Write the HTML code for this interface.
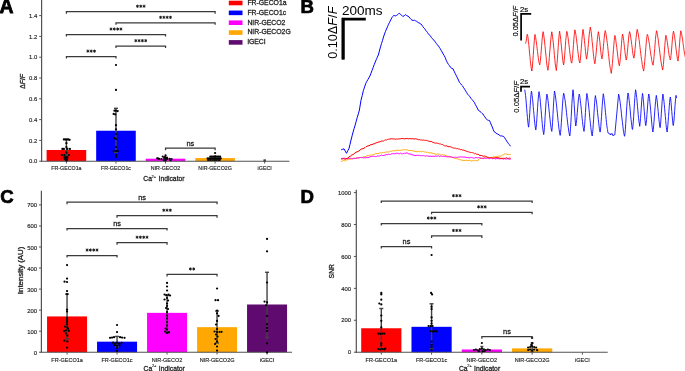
<!DOCTYPE html>
<html><head><meta charset="utf-8"><style>
html,body{margin:0;padding:0;background:#fff;}
svg{display:block;font-family:"Liberation Sans", sans-serif;will-change:transform;opacity:0.999;}
</style></head><body>
<svg width="685" height="371" viewBox="0 0 685 371">
<rect width="685" height="371" fill="#fff"/>
<text x="-0.50" y="13.20" font-size="19.4" text-anchor="start" fill="#000" font-weight="bold" stroke="#000" stroke-width="0.8" >A</text>
<text x="300.50" y="13.20" font-size="18.6" text-anchor="start" fill="#000" font-weight="bold" stroke="#000" stroke-width="0.7" >B</text>
<text x="0.20" y="203.20" font-size="18.6" text-anchor="start" fill="#000" font-weight="bold" stroke="#000" stroke-width="0.7" >C</text>
<text x="300.50" y="203.20" font-size="18.6" text-anchor="start" fill="#000" font-weight="bold" stroke="#000" stroke-width="0.7" >D</text>
<rect x="46.60" y="149.97" width="39.60" height="11.23" fill="#ff0000"/>
<rect x="96.17" y="130.73" width="39.60" height="30.47" fill="#0000ff"/>
<rect x="145.74" y="158.70" width="39.60" height="2.50" fill="#ff00ff"/>
<rect x="195.31" y="158.08" width="39.60" height="3.12" fill="#ffa803"/>
<line x1="41.60" y1="0.00" x2="41.60" y2="161.80" stroke="#525252" stroke-width="1.2" />
<line x1="41.00" y1="161.20" x2="289.40" y2="161.20" stroke="#525252" stroke-width="1.1" />
<line x1="39.20" y1="161.20" x2="41.60" y2="161.20" stroke="#525252" stroke-width="1.0" />
<text x="37.30" y="163.40" font-size="5.9" text-anchor="end" fill="#1e1e1e" font-weight="normal" stroke="#1e1e1e" stroke-width="0.15" >0.0</text>
<line x1="39.20" y1="140.40" x2="41.60" y2="140.40" stroke="#525252" stroke-width="1.0" />
<text x="37.30" y="142.60" font-size="5.9" text-anchor="end" fill="#1e1e1e" font-weight="normal" stroke="#1e1e1e" stroke-width="0.15" >0.2</text>
<line x1="39.20" y1="119.60" x2="41.60" y2="119.60" stroke="#525252" stroke-width="1.0" />
<text x="37.30" y="121.80" font-size="5.9" text-anchor="end" fill="#1e1e1e" font-weight="normal" stroke="#1e1e1e" stroke-width="0.15" >0.4</text>
<line x1="39.20" y1="98.80" x2="41.60" y2="98.80" stroke="#525252" stroke-width="1.0" />
<text x="37.30" y="101.00" font-size="5.9" text-anchor="end" fill="#1e1e1e" font-weight="normal" stroke="#1e1e1e" stroke-width="0.15" >0.6</text>
<line x1="39.20" y1="78.00" x2="41.60" y2="78.00" stroke="#525252" stroke-width="1.0" />
<text x="37.30" y="80.20" font-size="5.9" text-anchor="end" fill="#1e1e1e" font-weight="normal" stroke="#1e1e1e" stroke-width="0.15" >0.8</text>
<line x1="39.20" y1="57.20" x2="41.60" y2="57.20" stroke="#525252" stroke-width="1.0" />
<text x="37.30" y="59.40" font-size="5.9" text-anchor="end" fill="#1e1e1e" font-weight="normal" stroke="#1e1e1e" stroke-width="0.15" >1.0</text>
<line x1="39.20" y1="36.40" x2="41.60" y2="36.40" stroke="#525252" stroke-width="1.0" />
<text x="37.30" y="38.60" font-size="5.9" text-anchor="end" fill="#1e1e1e" font-weight="normal" stroke="#1e1e1e" stroke-width="0.15" >1.2</text>
<line x1="39.20" y1="15.60" x2="41.60" y2="15.60" stroke="#525252" stroke-width="1.0" />
<text x="37.30" y="17.80" font-size="5.9" text-anchor="end" fill="#1e1e1e" font-weight="normal" stroke="#1e1e1e" stroke-width="0.15" >1.4</text>
<line x1="66.40" y1="161.20" x2="66.40" y2="163.50" stroke="#525252" stroke-width="1.0" />
<text x="66.40" y="169.80" font-size="5.3" text-anchor="middle" fill="#1e1e1e" font-weight="normal" stroke="#1e1e1e" stroke-width="0.15" >FR-GECO1a</text>
<line x1="115.97" y1="161.20" x2="115.97" y2="163.50" stroke="#525252" stroke-width="1.0" />
<text x="115.97" y="169.80" font-size="5.3" text-anchor="middle" fill="#1e1e1e" font-weight="normal" stroke="#1e1e1e" stroke-width="0.15" >FR-GECO1c</text>
<line x1="165.54" y1="161.20" x2="165.54" y2="163.50" stroke="#525252" stroke-width="1.0" />
<text x="165.54" y="169.80" font-size="5.3" text-anchor="middle" fill="#1e1e1e" font-weight="normal" stroke="#1e1e1e" stroke-width="0.15" >NIR-GECO2</text>
<line x1="215.11" y1="161.20" x2="215.11" y2="163.50" stroke="#525252" stroke-width="1.0" />
<text x="215.11" y="169.80" font-size="5.3" text-anchor="middle" fill="#1e1e1e" font-weight="normal" stroke="#1e1e1e" stroke-width="0.15" >NIR-GECO2G</text>
<line x1="264.68" y1="161.20" x2="264.68" y2="163.50" stroke="#525252" stroke-width="1.0" />
<text x="264.68" y="169.80" font-size="5.3" text-anchor="middle" fill="#1e1e1e" font-weight="normal" stroke="#1e1e1e" stroke-width="0.15" >iGECI</text>
<text x="25.30" y="81.40" font-size="6.8" text-anchor="middle" fill="#1e1e1e" stroke="#1e1e1e" stroke-width="0.3" transform="rotate(-90 25.30 81.40)">&#916;<tspan font-style="italic">F</tspan>/<tspan font-style="italic">F</tspan></text>
<text x="143.30" y="181.30" font-size="6.8" text-anchor="start" fill="#1e1e1e" font-weight="normal" stroke="#1e1e1e" stroke-width="0.28" >Ca</text>
<text x="151.60" y="177.70" font-size="4.0" text-anchor="start" fill="#1e1e1e" font-weight="normal" stroke="#1e1e1e" stroke-width="0.15" >2+</text>
<text x="158.50" y="181.30" font-size="6.8" text-anchor="start" fill="#1e1e1e" font-weight="normal" stroke="#1e1e1e" stroke-width="0.28" >Indicator</text>
<line x1="66.40" y1="139.60" x2="66.40" y2="160.50" stroke="#424242" stroke-width="1.4" />
<line x1="64.40" y1="139.60" x2="68.40" y2="139.60" stroke="#424242" stroke-width="1.4" />
<line x1="64.40" y1="160.50" x2="68.40" y2="160.50" stroke="#424242" stroke-width="1.4" />
<line x1="115.97" y1="108.30" x2="115.97" y2="152.50" stroke="#424242" stroke-width="1.4" />
<line x1="113.97" y1="108.30" x2="117.97" y2="108.30" stroke="#424242" stroke-width="1.4" />
<line x1="113.97" y1="152.50" x2="117.97" y2="152.50" stroke="#424242" stroke-width="1.4" />
<line x1="165.54" y1="154.80" x2="165.54" y2="161.00" stroke="#424242" stroke-width="1.2" />
<line x1="215.11" y1="155.00" x2="215.11" y2="161.00" stroke="#424242" stroke-width="1.2" />
<line x1="264.68" y1="160.00" x2="264.68" y2="161.00" stroke="#424242" stroke-width="1.4" />
<line x1="263.48" y1="160.00" x2="265.88" y2="160.00" stroke="#424242" stroke-width="1.4" />
<line x1="263.48" y1="161.00" x2="265.88" y2="161.00" stroke="#424242" stroke-width="1.4" />
<circle cx="63.90" cy="139.40" r="1.12" fill="#000"/>
<circle cx="65.40" cy="139.40" r="1.12" fill="#000"/>
<circle cx="66.90" cy="139.40" r="1.12" fill="#000"/>
<circle cx="68.40" cy="139.40" r="1.12" fill="#000"/>
<circle cx="69.60" cy="139.80" r="1.12" fill="#000"/>
<circle cx="66.40" cy="143.20" r="1.12" fill="#000"/>
<circle cx="66.40" cy="147.00" r="1.12" fill="#000"/>
<circle cx="62.40" cy="148.90" r="1.12" fill="#000"/>
<circle cx="63.90" cy="148.90" r="1.12" fill="#000"/>
<circle cx="67.40" cy="148.90" r="1.12" fill="#000"/>
<circle cx="69.90" cy="148.90" r="1.12" fill="#000"/>
<circle cx="66.40" cy="152.60" r="1.12" fill="#000"/>
<circle cx="61.90" cy="155.00" r="1.12" fill="#000"/>
<circle cx="64.40" cy="155.00" r="1.12" fill="#000"/>
<circle cx="68.90" cy="155.00" r="1.12" fill="#000"/>
<circle cx="64.40" cy="157.40" r="1.12" fill="#000"/>
<circle cx="65.40" cy="157.40" r="1.12" fill="#000"/>
<circle cx="66.40" cy="157.40" r="1.12" fill="#000"/>
<circle cx="67.40" cy="157.40" r="1.12" fill="#000"/>
<circle cx="64.90" cy="159.00" r="1.12" fill="#000"/>
<circle cx="66.90" cy="159.50" r="1.12" fill="#000"/>
<circle cx="66.40" cy="160.50" r="1.12" fill="#000"/>
<circle cx="115.97" cy="65.00" r="1.12" fill="#000"/>
<circle cx="115.97" cy="89.90" r="1.12" fill="#000"/>
<circle cx="114.47" cy="110.70" r="1.12" fill="#000"/>
<circle cx="115.97" cy="110.70" r="1.12" fill="#000"/>
<circle cx="117.67" cy="111.10" r="1.12" fill="#000"/>
<circle cx="113.67" cy="113.90" r="1.12" fill="#000"/>
<circle cx="115.27" cy="114.40" r="1.12" fill="#000"/>
<circle cx="115.97" cy="125.20" r="1.12" fill="#000"/>
<circle cx="115.97" cy="129.30" r="1.12" fill="#000"/>
<circle cx="115.97" cy="134.10" r="1.12" fill="#000"/>
<circle cx="114.47" cy="138.20" r="1.12" fill="#000"/>
<circle cx="116.07" cy="139.00" r="1.12" fill="#000"/>
<circle cx="115.97" cy="147.10" r="1.12" fill="#000"/>
<circle cx="113.67" cy="151.10" r="1.12" fill="#000"/>
<circle cx="116.07" cy="151.10" r="1.12" fill="#000"/>
<circle cx="117.77" cy="151.10" r="1.12" fill="#000"/>
<circle cx="115.97" cy="155.20" r="1.12" fill="#000"/>
<circle cx="115.97" cy="156.80" r="1.12" fill="#000"/>
<circle cx="165.54" cy="155.30" r="1.12" fill="#000"/>
<circle cx="162.74" cy="156.50" r="1.12" fill="#000"/>
<circle cx="157.24" cy="158.30" r="1.12" fill="#000"/>
<circle cx="159.14" cy="158.80" r="1.12" fill="#000"/>
<circle cx="161.44" cy="159.00" r="1.12" fill="#000"/>
<circle cx="164.14" cy="157.90" r="1.12" fill="#000"/>
<circle cx="166.94" cy="157.60" r="1.12" fill="#000"/>
<circle cx="165.54" cy="159.20" r="1.12" fill="#000"/>
<circle cx="167.34" cy="158.80" r="1.12" fill="#000"/>
<circle cx="169.64" cy="158.80" r="1.12" fill="#000"/>
<circle cx="171.54" cy="159.00" r="1.12" fill="#000"/>
<circle cx="170.54" cy="160.20" r="1.12" fill="#000"/>
<circle cx="163.74" cy="160.20" r="1.12" fill="#000"/>
<circle cx="165.54" cy="160.40" r="1.12" fill="#000"/>
<circle cx="158.24" cy="158.50" r="1.12" fill="#000"/>
<circle cx="164.94" cy="157.00" r="1.12" fill="#000"/>
<circle cx="166.14" cy="158.30" r="1.12" fill="#000"/>
<circle cx="215.11" cy="153.00" r="1.12" fill="#000"/>
<circle cx="210.31" cy="156.60" r="1.12" fill="#000"/>
<circle cx="211.71" cy="156.60" r="1.12" fill="#000"/>
<circle cx="213.11" cy="156.60" r="1.12" fill="#000"/>
<circle cx="214.51" cy="156.60" r="1.12" fill="#000"/>
<circle cx="215.91" cy="156.60" r="1.12" fill="#000"/>
<circle cx="217.31" cy="156.60" r="1.12" fill="#000"/>
<circle cx="218.71" cy="156.60" r="1.12" fill="#000"/>
<circle cx="220.11" cy="156.60" r="1.12" fill="#000"/>
<circle cx="207.61" cy="158.40" r="1.12" fill="#000"/>
<circle cx="209.11" cy="158.40" r="1.12" fill="#000"/>
<circle cx="210.61" cy="158.40" r="1.12" fill="#000"/>
<circle cx="212.11" cy="158.40" r="1.12" fill="#000"/>
<circle cx="213.61" cy="158.40" r="1.12" fill="#000"/>
<circle cx="215.11" cy="158.40" r="1.12" fill="#000"/>
<circle cx="216.61" cy="158.40" r="1.12" fill="#000"/>
<circle cx="218.11" cy="158.40" r="1.12" fill="#000"/>
<circle cx="219.61" cy="158.40" r="1.12" fill="#000"/>
<circle cx="220.71" cy="158.40" r="1.12" fill="#000"/>
<circle cx="208.11" cy="160.00" r="1.12" fill="#000"/>
<circle cx="210.11" cy="160.00" r="1.12" fill="#000"/>
<circle cx="212.11" cy="160.00" r="1.12" fill="#000"/>
<circle cx="214.11" cy="160.00" r="1.12" fill="#000"/>
<circle cx="216.11" cy="160.00" r="1.12" fill="#000"/>
<circle cx="218.11" cy="160.00" r="1.12" fill="#000"/>
<circle cx="219.71" cy="160.00" r="1.12" fill="#000"/>
<polyline points="66.40,13.70 66.40,11.70 215.11,11.70 215.11,13.70" fill="none" stroke="#3a3a3a" stroke-width="1.25"/>
<path d="M137.45,4.70L137.45,7.80M136.11,5.47L138.80,7.02M138.80,5.47L136.11,7.02" stroke="#1e1e1e" stroke-width="0.95" fill="none"/>
<circle cx="137.45" cy="6.25" r="0.75" fill="#1e1e1e"/>
<path d="M140.75,4.70L140.75,7.80M139.41,5.47L142.10,7.02M142.10,5.47L139.41,7.02" stroke="#1e1e1e" stroke-width="0.95" fill="none"/>
<circle cx="140.75" cy="6.25" r="0.75" fill="#1e1e1e"/>
<path d="M144.06,4.70L144.06,7.80M142.71,5.47L145.40,7.02M145.40,5.47L142.71,7.02" stroke="#1e1e1e" stroke-width="0.95" fill="none"/>
<circle cx="144.06" cy="6.25" r="0.75" fill="#1e1e1e"/>
<polyline points="115.97,24.80 115.97,22.80 215.11,22.80 215.11,24.80" fill="none" stroke="#3a3a3a" stroke-width="1.25"/>
<path d="M160.59,15.80L160.59,18.90M159.25,16.58L161.93,18.12M161.93,16.58L159.25,18.12" stroke="#1e1e1e" stroke-width="0.95" fill="none"/>
<circle cx="160.59" cy="17.35" r="0.75" fill="#1e1e1e"/>
<path d="M163.89,15.80L163.89,18.90M162.55,16.58L165.23,18.12M165.23,16.58L162.55,18.12" stroke="#1e1e1e" stroke-width="0.95" fill="none"/>
<circle cx="163.89" cy="17.35" r="0.75" fill="#1e1e1e"/>
<path d="M167.19,15.80L167.19,18.90M165.85,16.58L168.53,18.12M168.53,16.58L165.85,18.12" stroke="#1e1e1e" stroke-width="0.95" fill="none"/>
<circle cx="167.19" cy="17.35" r="0.75" fill="#1e1e1e"/>
<path d="M170.49,15.80L170.49,18.90M169.15,16.58L171.83,18.12M171.83,16.58L169.15,18.12" stroke="#1e1e1e" stroke-width="0.95" fill="none"/>
<circle cx="170.49" cy="17.35" r="0.75" fill="#1e1e1e"/>
<polyline points="66.40,36.50 66.40,34.50 165.54,34.50 165.54,36.50" fill="none" stroke="#3a3a3a" stroke-width="1.25"/>
<path d="M111.02,27.50L111.02,30.60M109.68,28.28L112.36,29.82M112.36,28.28L109.68,29.82" stroke="#1e1e1e" stroke-width="0.95" fill="none"/>
<circle cx="111.02" cy="29.05" r="0.75" fill="#1e1e1e"/>
<path d="M114.32,27.50L114.32,30.60M112.98,28.28L115.66,29.82M115.66,28.28L112.98,29.82" stroke="#1e1e1e" stroke-width="0.95" fill="none"/>
<circle cx="114.32" cy="29.05" r="0.75" fill="#1e1e1e"/>
<path d="M117.62,27.50L117.62,30.60M116.28,28.28L118.96,29.82M118.96,28.28L116.28,29.82" stroke="#1e1e1e" stroke-width="0.95" fill="none"/>
<circle cx="117.62" cy="29.05" r="0.75" fill="#1e1e1e"/>
<path d="M120.92,27.50L120.92,30.60M119.58,28.28L122.26,29.82M122.26,28.28L119.58,29.82" stroke="#1e1e1e" stroke-width="0.95" fill="none"/>
<circle cx="120.92" cy="29.05" r="0.75" fill="#1e1e1e"/>
<polyline points="115.97,48.10 115.97,46.10 165.54,46.10 165.54,48.10" fill="none" stroke="#3a3a3a" stroke-width="1.25"/>
<path d="M135.81,39.10L135.81,42.20M134.46,39.88L137.15,41.42M137.15,39.88L134.46,41.42" stroke="#1e1e1e" stroke-width="0.95" fill="none"/>
<circle cx="135.81" cy="40.65" r="0.75" fill="#1e1e1e"/>
<path d="M139.10,39.10L139.10,42.20M137.76,39.88L140.45,41.42M140.45,39.88L137.76,41.42" stroke="#1e1e1e" stroke-width="0.95" fill="none"/>
<circle cx="139.10" cy="40.65" r="0.75" fill="#1e1e1e"/>
<path d="M142.41,39.10L142.41,42.20M141.06,39.88L143.75,41.42M143.75,39.88L141.06,41.42" stroke="#1e1e1e" stroke-width="0.95" fill="none"/>
<circle cx="142.41" cy="40.65" r="0.75" fill="#1e1e1e"/>
<path d="M145.70,39.10L145.70,42.20M144.36,39.88L147.05,41.42M147.05,39.88L144.36,41.42" stroke="#1e1e1e" stroke-width="0.95" fill="none"/>
<circle cx="145.70" cy="40.65" r="0.75" fill="#1e1e1e"/>
<polyline points="66.40,58.60 66.40,56.60 115.97,56.60 115.97,58.60" fill="none" stroke="#3a3a3a" stroke-width="1.25"/>
<path d="M87.89,49.60L87.89,52.70M86.54,50.38L89.23,51.92M89.23,50.38L86.54,51.92" stroke="#1e1e1e" stroke-width="0.95" fill="none"/>
<circle cx="87.89" cy="51.15" r="0.75" fill="#1e1e1e"/>
<path d="M91.19,49.60L91.19,52.70M89.84,50.38L92.53,51.92M92.53,50.38L89.84,51.92" stroke="#1e1e1e" stroke-width="0.95" fill="none"/>
<circle cx="91.19" cy="51.15" r="0.75" fill="#1e1e1e"/>
<path d="M94.48,49.60L94.48,52.70M93.14,50.38L95.83,51.92M95.83,50.38L93.14,51.92" stroke="#1e1e1e" stroke-width="0.95" fill="none"/>
<circle cx="94.48" cy="51.15" r="0.75" fill="#1e1e1e"/>
<polyline points="165.54,150.20 165.54,148.20 215.11,148.20 215.11,150.20" fill="none" stroke="#3a3a3a" stroke-width="1.25"/>
<text x="190.33" y="145.80" font-size="7.4" text-anchor="middle" fill="#1e1e1e" font-weight="normal" stroke="#1e1e1e" stroke-width="0.28" >ns</text>
<rect x="228.80" y="0.70" width="13.70" height="4.60" fill="#ff0000"/>
<text x="247.40" y="4.90" font-size="6.85" text-anchor="start" fill="#1e1e1e" font-weight="normal" stroke="#1e1e1e" stroke-width="0.28" >FR-GECO1a</text>
<rect x="228.80" y="10.55" width="13.70" height="4.60" fill="#0000ff"/>
<text x="247.40" y="14.75" font-size="6.85" text-anchor="start" fill="#1e1e1e" font-weight="normal" stroke="#1e1e1e" stroke-width="0.28" >FR-GECO1c</text>
<rect x="228.80" y="20.40" width="13.70" height="4.60" fill="#ff00ff"/>
<text x="247.40" y="24.60" font-size="6.85" text-anchor="start" fill="#1e1e1e" font-weight="normal" stroke="#1e1e1e" stroke-width="0.28" >NIR-GECO2</text>
<rect x="228.80" y="30.25" width="13.70" height="4.60" fill="#ffa803"/>
<text x="247.40" y="34.45" font-size="6.85" text-anchor="start" fill="#1e1e1e" font-weight="normal" stroke="#1e1e1e" stroke-width="0.28" >NIR-GECO2G</text>
<rect x="228.80" y="40.10" width="13.70" height="4.60" fill="#5f0a6e"/>
<text x="247.40" y="44.30" font-size="6.85" text-anchor="start" fill="#1e1e1e" font-weight="normal" stroke="#1e1e1e" stroke-width="0.28" >iGECI</text>
<rect x="47.05" y="316.43" width="40.00" height="35.77" fill="#ff0000"/>
<rect x="97.05" y="341.68" width="40.00" height="10.52" fill="#0000ff"/>
<rect x="147.05" y="312.86" width="40.00" height="39.34" fill="#ff00ff"/>
<rect x="197.05" y="327.16" width="40.00" height="25.04" fill="#ffa803"/>
<rect x="247.05" y="304.50" width="40.00" height="47.70" fill="#5f0a6e"/>
<line x1="41.40" y1="190.70" x2="41.40" y2="352.80" stroke="#525252" stroke-width="1.2" />
<line x1="40.80" y1="352.20" x2="292.00" y2="352.20" stroke="#525252" stroke-width="1.1" />
<line x1="39.00" y1="352.20" x2="41.40" y2="352.20" stroke="#525252" stroke-width="1.0" />
<text x="37.10" y="354.70" font-size="5.9" text-anchor="end" fill="#1e1e1e" font-weight="normal" stroke="#1e1e1e" stroke-width="0.15" >0</text>
<line x1="39.00" y1="331.16" x2="41.40" y2="331.16" stroke="#525252" stroke-width="1.0" />
<text x="37.10" y="333.66" font-size="5.9" text-anchor="end" fill="#1e1e1e" font-weight="normal" stroke="#1e1e1e" stroke-width="0.15" >100</text>
<line x1="39.00" y1="310.12" x2="41.40" y2="310.12" stroke="#525252" stroke-width="1.0" />
<text x="37.10" y="312.62" font-size="5.9" text-anchor="end" fill="#1e1e1e" font-weight="normal" stroke="#1e1e1e" stroke-width="0.15" >200</text>
<line x1="39.00" y1="289.08" x2="41.40" y2="289.08" stroke="#525252" stroke-width="1.0" />
<text x="37.10" y="291.58" font-size="5.9" text-anchor="end" fill="#1e1e1e" font-weight="normal" stroke="#1e1e1e" stroke-width="0.15" >300</text>
<line x1="39.00" y1="268.04" x2="41.40" y2="268.04" stroke="#525252" stroke-width="1.0" />
<text x="37.10" y="270.54" font-size="5.9" text-anchor="end" fill="#1e1e1e" font-weight="normal" stroke="#1e1e1e" stroke-width="0.15" >400</text>
<line x1="39.00" y1="247.00" x2="41.40" y2="247.00" stroke="#525252" stroke-width="1.0" />
<text x="37.10" y="249.50" font-size="5.9" text-anchor="end" fill="#1e1e1e" font-weight="normal" stroke="#1e1e1e" stroke-width="0.15" >500</text>
<line x1="39.00" y1="225.96" x2="41.40" y2="225.96" stroke="#525252" stroke-width="1.0" />
<text x="37.10" y="228.46" font-size="5.9" text-anchor="end" fill="#1e1e1e" font-weight="normal" stroke="#1e1e1e" stroke-width="0.15" >600</text>
<line x1="39.00" y1="204.92" x2="41.40" y2="204.92" stroke="#525252" stroke-width="1.0" />
<text x="37.10" y="207.42" font-size="5.9" text-anchor="end" fill="#1e1e1e" font-weight="normal" stroke="#1e1e1e" stroke-width="0.15" >700</text>
<line x1="67.05" y1="352.20" x2="67.05" y2="354.50" stroke="#525252" stroke-width="1.0" />
<text x="67.05" y="361.80" font-size="5.5" text-anchor="middle" fill="#1e1e1e" font-weight="normal" stroke="#1e1e1e" stroke-width="0.15" >FR-GECO1a</text>
<line x1="117.05" y1="352.20" x2="117.05" y2="354.50" stroke="#525252" stroke-width="1.0" />
<text x="117.05" y="361.80" font-size="5.5" text-anchor="middle" fill="#1e1e1e" font-weight="normal" stroke="#1e1e1e" stroke-width="0.15" >FR-GECO1c</text>
<line x1="167.05" y1="352.20" x2="167.05" y2="354.50" stroke="#525252" stroke-width="1.0" />
<text x="167.05" y="361.80" font-size="5.5" text-anchor="middle" fill="#1e1e1e" font-weight="normal" stroke="#1e1e1e" stroke-width="0.15" >NIR-GECO2</text>
<line x1="217.05" y1="352.20" x2="217.05" y2="354.50" stroke="#525252" stroke-width="1.0" />
<text x="217.05" y="361.80" font-size="5.5" text-anchor="middle" fill="#1e1e1e" font-weight="normal" stroke="#1e1e1e" stroke-width="0.15" >NIR-GECO2G</text>
<line x1="267.05" y1="352.20" x2="267.05" y2="354.50" stroke="#525252" stroke-width="1.0" />
<text x="267.05" y="361.80" font-size="5.5" text-anchor="middle" fill="#1e1e1e" font-weight="normal" stroke="#1e1e1e" stroke-width="0.15" >iGECI</text>
<text x="23.10" y="270.40" font-size="6.8" text-anchor="middle" fill="#1e1e1e" stroke="#1e1e1e" stroke-width="0.3" transform="rotate(-90 23.10 270.40)" textLength="47.5" lengthAdjust="spacingAndGlyphs">Intensity (AU)</text>
<text x="143.60" y="370.60" font-size="6.8" text-anchor="start" fill="#1e1e1e" font-weight="normal" stroke="#1e1e1e" stroke-width="0.28" >Ca</text>
<text x="151.90" y="367.00" font-size="4.0" text-anchor="start" fill="#1e1e1e" font-weight="normal" stroke="#1e1e1e" stroke-width="0.15" >2+</text>
<text x="158.80" y="370.60" font-size="6.8" text-anchor="start" fill="#1e1e1e" font-weight="normal" stroke="#1e1e1e" stroke-width="0.28" >Indicator</text>
<line x1="67.05" y1="294.10" x2="67.05" y2="339.00" stroke="#424242" stroke-width="1.4" />
<line x1="65.05" y1="294.10" x2="69.05" y2="294.10" stroke="#424242" stroke-width="1.4" />
<line x1="65.05" y1="339.00" x2="69.05" y2="339.00" stroke="#424242" stroke-width="1.4" />
<line x1="117.05" y1="336.40" x2="117.05" y2="347.00" stroke="#424242" stroke-width="1.4" />
<line x1="115.05" y1="336.40" x2="119.05" y2="336.40" stroke="#424242" stroke-width="1.4" />
<line x1="115.05" y1="347.00" x2="119.05" y2="347.00" stroke="#424242" stroke-width="1.4" />
<line x1="167.05" y1="295.50" x2="167.05" y2="333.00" stroke="#424242" stroke-width="1.4" />
<line x1="165.05" y1="295.50" x2="169.05" y2="295.50" stroke="#424242" stroke-width="1.4" />
<line x1="165.05" y1="333.00" x2="169.05" y2="333.00" stroke="#424242" stroke-width="1.4" />
<line x1="217.05" y1="311.00" x2="217.05" y2="343.00" stroke="#424242" stroke-width="1.4" />
<line x1="215.05" y1="311.00" x2="219.05" y2="311.00" stroke="#424242" stroke-width="1.4" />
<line x1="215.05" y1="343.00" x2="219.05" y2="343.00" stroke="#424242" stroke-width="1.4" />
<line x1="267.05" y1="272.30" x2="267.05" y2="337.70" stroke="#424242" stroke-width="1.4" />
<line x1="265.05" y1="272.30" x2="269.05" y2="272.30" stroke="#424242" stroke-width="1.4" />
<line x1="265.05" y1="337.70" x2="269.05" y2="337.70" stroke="#424242" stroke-width="1.4" />
<circle cx="67.05" cy="265.10" r="1.12" fill="#000"/>
<circle cx="67.05" cy="278.60" r="1.12" fill="#000"/>
<circle cx="64.55" cy="281.70" r="1.12" fill="#000"/>
<circle cx="67.05" cy="282.00" r="1.12" fill="#000"/>
<circle cx="67.05" cy="291.10" r="1.12" fill="#000"/>
<circle cx="67.05" cy="294.10" r="1.12" fill="#000"/>
<circle cx="67.05" cy="309.60" r="1.12" fill="#000"/>
<circle cx="67.05" cy="311.50" r="1.12" fill="#000"/>
<circle cx="67.05" cy="317.80" r="1.12" fill="#000"/>
<circle cx="67.05" cy="320.00" r="1.12" fill="#000"/>
<circle cx="67.05" cy="322.20" r="1.12" fill="#000"/>
<circle cx="67.05" cy="324.40" r="1.12" fill="#000"/>
<circle cx="65.05" cy="326.60" r="1.12" fill="#000"/>
<circle cx="67.35" cy="327.40" r="1.12" fill="#000"/>
<circle cx="68.05" cy="328.80" r="1.12" fill="#000"/>
<circle cx="64.05" cy="331.10" r="1.12" fill="#000"/>
<circle cx="65.85" cy="330.30" r="1.12" fill="#000"/>
<circle cx="68.85" cy="330.80" r="1.12" fill="#000"/>
<circle cx="65.85" cy="333.30" r="1.12" fill="#000"/>
<circle cx="67.35" cy="335.50" r="1.12" fill="#000"/>
<circle cx="64.35" cy="340.70" r="1.12" fill="#000"/>
<circle cx="67.35" cy="341.40" r="1.12" fill="#000"/>
<circle cx="67.05" cy="347.60" r="1.12" fill="#000"/>
<circle cx="117.05" cy="325.00" r="1.12" fill="#000"/>
<circle cx="117.05" cy="332.10" r="1.12" fill="#000"/>
<circle cx="110.05" cy="337.80" r="1.12" fill="#000"/>
<circle cx="112.05" cy="337.60" r="1.12" fill="#000"/>
<circle cx="114.05" cy="337.20" r="1.12" fill="#000"/>
<circle cx="120.05" cy="337.20" r="1.12" fill="#000"/>
<circle cx="122.05" cy="337.60" r="1.12" fill="#000"/>
<circle cx="124.55" cy="337.80" r="1.12" fill="#000"/>
<circle cx="113.05" cy="342.70" r="1.12" fill="#000"/>
<circle cx="115.05" cy="343.50" r="1.12" fill="#000"/>
<circle cx="117.05" cy="342.70" r="1.12" fill="#000"/>
<circle cx="119.05" cy="343.50" r="1.12" fill="#000"/>
<circle cx="121.55" cy="342.90" r="1.12" fill="#000"/>
<circle cx="114.55" cy="345.20" r="1.12" fill="#000"/>
<circle cx="117.05" cy="345.70" r="1.12" fill="#000"/>
<circle cx="119.55" cy="345.20" r="1.12" fill="#000"/>
<circle cx="117.05" cy="348.00" r="1.12" fill="#000"/>
<circle cx="117.05" cy="350.90" r="1.12" fill="#000"/>
<circle cx="167.05" cy="282.90" r="1.12" fill="#000"/>
<circle cx="167.05" cy="286.50" r="1.12" fill="#000"/>
<circle cx="167.05" cy="290.50" r="1.12" fill="#000"/>
<circle cx="164.55" cy="294.50" r="1.12" fill="#000"/>
<circle cx="166.55" cy="295.00" r="1.12" fill="#000"/>
<circle cx="168.55" cy="294.50" r="1.12" fill="#000"/>
<circle cx="170.05" cy="295.50" r="1.12" fill="#000"/>
<circle cx="167.05" cy="298.00" r="1.12" fill="#000"/>
<circle cx="164.55" cy="299.50" r="1.12" fill="#000"/>
<circle cx="168.05" cy="300.50" r="1.12" fill="#000"/>
<circle cx="167.05" cy="303.50" r="1.12" fill="#000"/>
<circle cx="167.05" cy="306.00" r="1.12" fill="#000"/>
<circle cx="166.05" cy="308.00" r="1.12" fill="#000"/>
<circle cx="168.05" cy="309.00" r="1.12" fill="#000"/>
<circle cx="167.05" cy="312.00" r="1.12" fill="#000"/>
<circle cx="167.05" cy="315.50" r="1.12" fill="#000"/>
<circle cx="167.05" cy="318.50" r="1.12" fill="#000"/>
<circle cx="167.05" cy="322.00" r="1.12" fill="#000"/>
<circle cx="167.05" cy="325.50" r="1.12" fill="#000"/>
<circle cx="165.55" cy="328.50" r="1.12" fill="#000"/>
<circle cx="167.05" cy="329.50" r="1.12" fill="#000"/>
<circle cx="165.05" cy="331.50" r="1.12" fill="#000"/>
<circle cx="167.05" cy="332.80" r="1.12" fill="#000"/>
<circle cx="169.05" cy="332.20" r="1.12" fill="#000"/>
<circle cx="217.05" cy="288.50" r="1.12" fill="#000"/>
<circle cx="215.55" cy="300.20" r="1.12" fill="#000"/>
<circle cx="218.05" cy="300.20" r="1.12" fill="#000"/>
<circle cx="217.05" cy="310.60" r="1.12" fill="#000"/>
<circle cx="217.05" cy="313.30" r="1.12" fill="#000"/>
<circle cx="218.55" cy="315.90" r="1.12" fill="#000"/>
<circle cx="217.05" cy="320.90" r="1.12" fill="#000"/>
<circle cx="216.05" cy="324.50" r="1.12" fill="#000"/>
<circle cx="217.05" cy="329.00" r="1.12" fill="#000"/>
<circle cx="214.55" cy="331.50" r="1.12" fill="#000"/>
<circle cx="217.05" cy="332.00" r="1.12" fill="#000"/>
<circle cx="219.55" cy="332.00" r="1.12" fill="#000"/>
<circle cx="221.55" cy="331.80" r="1.12" fill="#000"/>
<circle cx="216.05" cy="334.50" r="1.12" fill="#000"/>
<circle cx="217.55" cy="336.50" r="1.12" fill="#000"/>
<circle cx="215.55" cy="339.00" r="1.12" fill="#000"/>
<circle cx="217.05" cy="341.50" r="1.12" fill="#000"/>
<circle cx="215.05" cy="344.00" r="1.12" fill="#000"/>
<circle cx="217.05" cy="346.50" r="1.12" fill="#000"/>
<circle cx="217.05" cy="350.60" r="1.12" fill="#000"/>
<circle cx="267.05" cy="238.90" r="1.12" fill="#000"/>
<circle cx="267.05" cy="251.30" r="1.12" fill="#000"/>
<circle cx="267.05" cy="282.50" r="1.12" fill="#000"/>
<circle cx="264.55" cy="301.60" r="1.12" fill="#000"/>
<circle cx="267.05" cy="302.40" r="1.12" fill="#000"/>
<circle cx="266.05" cy="305.30" r="1.12" fill="#000"/>
<circle cx="267.05" cy="316.10" r="1.12" fill="#000"/>
<circle cx="267.05" cy="324.20" r="1.12" fill="#000"/>
<circle cx="267.05" cy="327.90" r="1.12" fill="#000"/>
<circle cx="267.05" cy="331.00" r="1.12" fill="#000"/>
<circle cx="267.05" cy="343.30" r="1.12" fill="#000"/>
<circle cx="267.05" cy="352.40" r="1.12" fill="#000"/>
<polyline points="67.05,204.20 67.05,202.20 217.05,202.20 217.05,204.20" fill="none" stroke="#3a3a3a" stroke-width="1.25"/>
<text x="142.05" y="199.80" font-size="7.4" text-anchor="middle" fill="#1e1e1e" font-weight="normal" stroke="#1e1e1e" stroke-width="0.28" >ns</text>
<polyline points="117.05,217.70 117.05,215.70 217.05,215.70 217.05,217.70" fill="none" stroke="#3a3a3a" stroke-width="1.25"/>
<path d="M163.75,208.70L163.75,211.80M162.41,209.47L165.09,211.03M165.09,209.47L162.41,211.03" stroke="#1e1e1e" stroke-width="0.95" fill="none"/>
<circle cx="163.75" cy="210.25" r="0.75" fill="#1e1e1e"/>
<path d="M167.05,208.70L167.05,211.80M165.71,209.47L168.39,211.03M168.39,209.47L165.71,211.03" stroke="#1e1e1e" stroke-width="0.95" fill="none"/>
<circle cx="167.05" cy="210.25" r="0.75" fill="#1e1e1e"/>
<path d="M170.35,208.70L170.35,211.80M169.01,209.47L171.69,211.03M171.69,209.47L169.01,211.03" stroke="#1e1e1e" stroke-width="0.95" fill="none"/>
<circle cx="170.35" cy="210.25" r="0.75" fill="#1e1e1e"/>
<polyline points="67.05,230.60 67.05,228.60 167.05,228.60 167.05,230.60" fill="none" stroke="#3a3a3a" stroke-width="1.25"/>
<text x="117.05" y="226.20" font-size="7.4" text-anchor="middle" fill="#1e1e1e" font-weight="normal" stroke="#1e1e1e" stroke-width="0.28" >ns</text>
<polyline points="117.05,244.70 117.05,242.70 167.05,242.70 167.05,244.70" fill="none" stroke="#3a3a3a" stroke-width="1.25"/>
<path d="M137.10,235.70L137.10,238.80M135.76,236.47L138.44,238.03M138.44,236.47L135.76,238.03" stroke="#1e1e1e" stroke-width="0.95" fill="none"/>
<circle cx="137.10" cy="237.25" r="0.75" fill="#1e1e1e"/>
<path d="M140.40,235.70L140.40,238.80M139.06,236.47L141.74,238.03M141.74,236.47L139.06,238.03" stroke="#1e1e1e" stroke-width="0.95" fill="none"/>
<circle cx="140.40" cy="237.25" r="0.75" fill="#1e1e1e"/>
<path d="M143.70,235.70L143.70,238.80M142.36,236.47L145.04,238.03M145.04,236.47L142.36,238.03" stroke="#1e1e1e" stroke-width="0.95" fill="none"/>
<circle cx="143.70" cy="237.25" r="0.75" fill="#1e1e1e"/>
<path d="M147.00,235.70L147.00,238.80M145.66,236.47L148.34,238.03M148.34,236.47L145.66,238.03" stroke="#1e1e1e" stroke-width="0.95" fill="none"/>
<circle cx="147.00" cy="237.25" r="0.75" fill="#1e1e1e"/>
<polyline points="67.05,257.50 67.05,255.50 117.05,255.50 117.05,257.50" fill="none" stroke="#3a3a3a" stroke-width="1.25"/>
<path d="M87.10,248.50L87.10,251.60M85.76,249.28L88.44,250.83M88.44,249.28L85.76,250.83" stroke="#1e1e1e" stroke-width="0.95" fill="none"/>
<circle cx="87.10" cy="250.05" r="0.75" fill="#1e1e1e"/>
<path d="M90.40,248.50L90.40,251.60M89.06,249.28L91.74,250.83M91.74,249.28L89.06,250.83" stroke="#1e1e1e" stroke-width="0.95" fill="none"/>
<circle cx="90.40" cy="250.05" r="0.75" fill="#1e1e1e"/>
<path d="M93.70,248.50L93.70,251.60M92.36,249.28L95.04,250.83M95.04,249.28L92.36,250.83" stroke="#1e1e1e" stroke-width="0.95" fill="none"/>
<circle cx="93.70" cy="250.05" r="0.75" fill="#1e1e1e"/>
<path d="M97.00,248.50L97.00,251.60M95.66,249.28L98.34,250.83M98.34,249.28L95.66,250.83" stroke="#1e1e1e" stroke-width="0.95" fill="none"/>
<circle cx="97.00" cy="250.05" r="0.75" fill="#1e1e1e"/>
<polyline points="167.05,276.40 167.05,274.40 217.05,274.40 217.05,276.40" fill="none" stroke="#3a3a3a" stroke-width="1.25"/>
<path d="M190.40,267.40L190.40,270.50M189.06,268.18L191.74,269.72M191.74,268.18L189.06,269.72" stroke="#1e1e1e" stroke-width="0.95" fill="none"/>
<circle cx="190.40" cy="268.95" r="0.75" fill="#1e1e1e"/>
<path d="M193.70,267.40L193.70,270.50M192.36,268.18L195.04,269.72M195.04,268.18L192.36,269.72" stroke="#1e1e1e" stroke-width="0.95" fill="none"/>
<circle cx="193.70" cy="268.95" r="0.75" fill="#1e1e1e"/>
<rect x="361.20" y="328.26" width="40.20" height="24.04" fill="#ff0000"/>
<rect x="411.48" y="326.82" width="40.20" height="25.48" fill="#0000ff"/>
<rect x="461.76" y="349.49" width="40.20" height="2.81" fill="#ff00ff"/>
<rect x="512.04" y="348.37" width="40.20" height="3.93" fill="#ffa803"/>
<line x1="356.30" y1="189.80" x2="356.30" y2="352.90" stroke="#525252" stroke-width="1.2" />
<line x1="355.70" y1="352.30" x2="607.70" y2="352.30" stroke="#525252" stroke-width="1.1" />
<line x1="353.90" y1="352.20" x2="356.30" y2="352.20" stroke="#525252" stroke-width="1.0" />
<text x="351.10" y="354.40" font-size="5.9" text-anchor="end" fill="#1e1e1e" font-weight="normal" stroke="#1e1e1e" stroke-width="0.15" >0</text>
<line x1="353.90" y1="320.28" x2="356.30" y2="320.28" stroke="#525252" stroke-width="1.0" />
<text x="351.10" y="322.48" font-size="5.9" text-anchor="end" fill="#1e1e1e" font-weight="normal" stroke="#1e1e1e" stroke-width="0.15" >200</text>
<line x1="353.90" y1="288.36" x2="356.30" y2="288.36" stroke="#525252" stroke-width="1.0" />
<text x="351.10" y="290.56" font-size="5.9" text-anchor="end" fill="#1e1e1e" font-weight="normal" stroke="#1e1e1e" stroke-width="0.15" >400</text>
<line x1="353.90" y1="256.44" x2="356.30" y2="256.44" stroke="#525252" stroke-width="1.0" />
<text x="351.10" y="258.64" font-size="5.9" text-anchor="end" fill="#1e1e1e" font-weight="normal" stroke="#1e1e1e" stroke-width="0.15" >600</text>
<line x1="353.90" y1="224.52" x2="356.30" y2="224.52" stroke="#525252" stroke-width="1.0" />
<text x="351.10" y="226.72" font-size="5.9" text-anchor="end" fill="#1e1e1e" font-weight="normal" stroke="#1e1e1e" stroke-width="0.15" >800</text>
<line x1="353.90" y1="192.60" x2="356.30" y2="192.60" stroke="#525252" stroke-width="1.0" />
<text x="351.10" y="194.80" font-size="5.9" text-anchor="end" fill="#1e1e1e" font-weight="normal" stroke="#1e1e1e" stroke-width="0.15" >1000</text>
<line x1="381.30" y1="352.30" x2="381.30" y2="354.60" stroke="#525252" stroke-width="1.0" />
<text x="381.30" y="361.90" font-size="5.5" text-anchor="middle" fill="#1e1e1e" font-weight="normal" stroke="#1e1e1e" stroke-width="0.15" >FR-GECO1a</text>
<line x1="431.58" y1="352.30" x2="431.58" y2="354.60" stroke="#525252" stroke-width="1.0" />
<text x="431.58" y="361.90" font-size="5.5" text-anchor="middle" fill="#1e1e1e" font-weight="normal" stroke="#1e1e1e" stroke-width="0.15" >FR-GECO1c</text>
<line x1="481.86" y1="352.30" x2="481.86" y2="354.60" stroke="#525252" stroke-width="1.0" />
<text x="481.86" y="361.90" font-size="5.5" text-anchor="middle" fill="#1e1e1e" font-weight="normal" stroke="#1e1e1e" stroke-width="0.15" >NIR-GECO2</text>
<line x1="532.14" y1="352.30" x2="532.14" y2="354.60" stroke="#525252" stroke-width="1.0" />
<text x="532.14" y="361.90" font-size="5.5" text-anchor="middle" fill="#1e1e1e" font-weight="normal" stroke="#1e1e1e" stroke-width="0.15" >NIR-GECO2G</text>
<line x1="582.42" y1="352.30" x2="582.42" y2="354.60" stroke="#525252" stroke-width="1.0" />
<text x="582.42" y="361.90" font-size="5.5" text-anchor="middle" fill="#1e1e1e" font-weight="normal" stroke="#1e1e1e" stroke-width="0.15" >iGECI</text>
<text x="334.00" y="271.20" font-size="6.8" text-anchor="middle" fill="#1e1e1e" stroke="#1e1e1e" stroke-width="0.3" transform="rotate(-90 334.00 271.20)">SNR</text>
<text x="458.90" y="370.60" font-size="6.8" text-anchor="start" fill="#1e1e1e" font-weight="normal" stroke="#1e1e1e" stroke-width="0.28" >Ca</text>
<text x="467.20" y="367.00" font-size="4.0" text-anchor="start" fill="#1e1e1e" font-weight="normal" stroke="#1e1e1e" stroke-width="0.15" >2+</text>
<text x="474.10" y="370.60" font-size="6.8" text-anchor="start" fill="#1e1e1e" font-weight="normal" stroke="#1e1e1e" stroke-width="0.28" >Indicator</text>
<line x1="381.30" y1="308.50" x2="381.30" y2="349.00" stroke="#424242" stroke-width="1.4" />
<line x1="379.30" y1="308.50" x2="383.30" y2="308.50" stroke="#424242" stroke-width="1.4" />
<line x1="379.30" y1="349.00" x2="383.30" y2="349.00" stroke="#424242" stroke-width="1.4" />
<line x1="431.58" y1="303.80" x2="431.58" y2="349.00" stroke="#424242" stroke-width="1.4" />
<line x1="429.58" y1="303.80" x2="433.58" y2="303.80" stroke="#424242" stroke-width="1.4" />
<line x1="429.58" y1="349.00" x2="433.58" y2="349.00" stroke="#424242" stroke-width="1.4" />
<line x1="481.86" y1="346.50" x2="481.86" y2="351.50" stroke="#424242" stroke-width="1.4" />
<line x1="480.36" y1="346.50" x2="483.36" y2="346.50" stroke="#424242" stroke-width="1.4" />
<line x1="480.36" y1="351.50" x2="483.36" y2="351.50" stroke="#424242" stroke-width="1.4" />
<line x1="532.14" y1="343.00" x2="532.14" y2="351.50" stroke="#424242" stroke-width="1.4" />
<line x1="530.64" y1="343.00" x2="533.64" y2="343.00" stroke="#424242" stroke-width="1.4" />
<line x1="530.64" y1="351.50" x2="533.64" y2="351.50" stroke="#424242" stroke-width="1.4" />
<circle cx="381.30" cy="292.90" r="1.12" fill="#000"/>
<circle cx="381.30" cy="294.40" r="1.12" fill="#000"/>
<circle cx="381.30" cy="299.70" r="1.12" fill="#000"/>
<circle cx="379.30" cy="303.50" r="1.12" fill="#000"/>
<circle cx="381.30" cy="304.40" r="1.12" fill="#000"/>
<circle cx="381.30" cy="315.50" r="1.12" fill="#000"/>
<circle cx="381.30" cy="320.80" r="1.12" fill="#000"/>
<circle cx="381.30" cy="327.40" r="1.12" fill="#000"/>
<circle cx="378.30" cy="333.60" r="1.12" fill="#000"/>
<circle cx="380.30" cy="333.80" r="1.12" fill="#000"/>
<circle cx="382.30" cy="333.60" r="1.12" fill="#000"/>
<circle cx="384.30" cy="333.60" r="1.12" fill="#000"/>
<circle cx="381.30" cy="343.40" r="1.12" fill="#000"/>
<circle cx="381.30" cy="345.30" r="1.12" fill="#000"/>
<circle cx="378.30" cy="349.00" r="1.12" fill="#000"/>
<circle cx="380.30" cy="349.50" r="1.12" fill="#000"/>
<circle cx="382.30" cy="349.00" r="1.12" fill="#000"/>
<circle cx="384.30" cy="349.30" r="1.12" fill="#000"/>
<circle cx="385.30" cy="348.50" r="1.12" fill="#000"/>
<circle cx="431.58" cy="255.00" r="1.12" fill="#000"/>
<circle cx="431.08" cy="292.90" r="1.12" fill="#000"/>
<circle cx="432.08" cy="294.40" r="1.12" fill="#000"/>
<circle cx="431.58" cy="306.70" r="1.12" fill="#000"/>
<circle cx="431.58" cy="309.10" r="1.12" fill="#000"/>
<circle cx="431.58" cy="317.40" r="1.12" fill="#000"/>
<circle cx="431.58" cy="320.80" r="1.12" fill="#000"/>
<circle cx="431.58" cy="323.60" r="1.12" fill="#000"/>
<circle cx="428.58" cy="326.00" r="1.12" fill="#000"/>
<circle cx="430.58" cy="326.20" r="1.12" fill="#000"/>
<circle cx="432.58" cy="326.00" r="1.12" fill="#000"/>
<circle cx="430.58" cy="331.10" r="1.12" fill="#000"/>
<circle cx="432.58" cy="331.50" r="1.12" fill="#000"/>
<circle cx="434.58" cy="331.10" r="1.12" fill="#000"/>
<circle cx="436.58" cy="331.30" r="1.12" fill="#000"/>
<circle cx="431.58" cy="341.50" r="1.12" fill="#000"/>
<circle cx="431.58" cy="344.90" r="1.12" fill="#000"/>
<circle cx="431.58" cy="347.10" r="1.12" fill="#000"/>
<circle cx="431.58" cy="350.00" r="1.12" fill="#000"/>
<circle cx="481.86" cy="343.00" r="1.12" fill="#000"/>
<circle cx="473.86" cy="350.00" r="1.12" fill="#000"/>
<circle cx="475.86" cy="349.50" r="1.12" fill="#000"/>
<circle cx="477.86" cy="350.30" r="1.12" fill="#000"/>
<circle cx="479.86" cy="349.20" r="1.12" fill="#000"/>
<circle cx="481.86" cy="348.50" r="1.12" fill="#000"/>
<circle cx="483.86" cy="349.30" r="1.12" fill="#000"/>
<circle cx="485.86" cy="350.00" r="1.12" fill="#000"/>
<circle cx="487.86" cy="349.60" r="1.12" fill="#000"/>
<circle cx="489.86" cy="350.10" r="1.12" fill="#000"/>
<circle cx="478.86" cy="351.20" r="1.12" fill="#000"/>
<circle cx="482.86" cy="351.30" r="1.12" fill="#000"/>
<circle cx="484.86" cy="351.00" r="1.12" fill="#000"/>
<circle cx="532.14" cy="337.90" r="1.12" fill="#000"/>
<circle cx="532.14" cy="343.00" r="1.12" fill="#000"/>
<circle cx="528.14" cy="347.50" r="1.12" fill="#000"/>
<circle cx="530.14" cy="347.00" r="1.12" fill="#000"/>
<circle cx="532.14" cy="346.30" r="1.12" fill="#000"/>
<circle cx="534.14" cy="347.00" r="1.12" fill="#000"/>
<circle cx="536.14" cy="347.50" r="1.12" fill="#000"/>
<circle cx="528.14" cy="350.00" r="1.12" fill="#000"/>
<circle cx="530.14" cy="349.50" r="1.12" fill="#000"/>
<circle cx="532.14" cy="350.50" r="1.12" fill="#000"/>
<circle cx="534.14" cy="349.50" r="1.12" fill="#000"/>
<circle cx="537.14" cy="350.20" r="1.12" fill="#000"/>
<circle cx="531.14" cy="345.00" r="1.12" fill="#000"/>
<polyline points="381.30,203.10 381.30,201.10 532.14,201.10 532.14,203.10" fill="none" stroke="#3a3a3a" stroke-width="1.25"/>
<path d="M453.42,194.10L453.42,197.20M452.08,194.88L454.76,196.43M454.76,194.88L452.08,196.43" stroke="#1e1e1e" stroke-width="0.95" fill="none"/>
<circle cx="453.42" cy="195.65" r="0.75" fill="#1e1e1e"/>
<path d="M456.72,194.10L456.72,197.20M455.38,194.88L458.06,196.43M458.06,194.88L455.38,196.43" stroke="#1e1e1e" stroke-width="0.95" fill="none"/>
<circle cx="456.72" cy="195.65" r="0.75" fill="#1e1e1e"/>
<path d="M460.02,194.10L460.02,197.20M458.68,194.88L461.36,196.43M461.36,194.88L458.68,196.43" stroke="#1e1e1e" stroke-width="0.95" fill="none"/>
<circle cx="460.02" cy="195.65" r="0.75" fill="#1e1e1e"/>
<polyline points="431.58,214.30 431.58,212.30 532.14,212.30 532.14,214.30" fill="none" stroke="#3a3a3a" stroke-width="1.25"/>
<path d="M478.56,205.30L478.56,208.40M477.22,206.08L479.90,207.63M479.90,206.08L477.22,207.63" stroke="#1e1e1e" stroke-width="0.95" fill="none"/>
<circle cx="478.56" cy="206.85" r="0.75" fill="#1e1e1e"/>
<path d="M481.86,205.30L481.86,208.40M480.52,206.08L483.20,207.63M483.20,206.08L480.52,207.63" stroke="#1e1e1e" stroke-width="0.95" fill="none"/>
<circle cx="481.86" cy="206.85" r="0.75" fill="#1e1e1e"/>
<path d="M485.16,205.30L485.16,208.40M483.82,206.08L486.50,207.63M486.50,206.08L483.82,207.63" stroke="#1e1e1e" stroke-width="0.95" fill="none"/>
<circle cx="485.16" cy="206.85" r="0.75" fill="#1e1e1e"/>
<polyline points="381.30,225.50 381.30,223.50 481.86,223.50 481.86,225.50" fill="none" stroke="#3a3a3a" stroke-width="1.25"/>
<path d="M428.28,216.50L428.28,219.60M426.94,217.28L429.62,218.83M429.62,217.28L426.94,218.83" stroke="#1e1e1e" stroke-width="0.95" fill="none"/>
<circle cx="428.28" cy="218.05" r="0.75" fill="#1e1e1e"/>
<path d="M431.58,216.50L431.58,219.60M430.24,217.28L432.92,218.83M432.92,217.28L430.24,218.83" stroke="#1e1e1e" stroke-width="0.95" fill="none"/>
<circle cx="431.58" cy="218.05" r="0.75" fill="#1e1e1e"/>
<path d="M434.88,216.50L434.88,219.60M433.54,217.28L436.22,218.83M436.22,217.28L433.54,218.83" stroke="#1e1e1e" stroke-width="0.95" fill="none"/>
<circle cx="434.88" cy="218.05" r="0.75" fill="#1e1e1e"/>
<polyline points="431.58,237.90 431.58,235.90 481.86,235.90 481.86,237.90" fill="none" stroke="#3a3a3a" stroke-width="1.25"/>
<path d="M453.42,228.90L453.42,232.00M452.08,229.68L454.76,231.23M454.76,229.68L452.08,231.23" stroke="#1e1e1e" stroke-width="0.95" fill="none"/>
<circle cx="453.42" cy="230.45" r="0.75" fill="#1e1e1e"/>
<path d="M456.72,228.90L456.72,232.00M455.38,229.68L458.06,231.23M458.06,229.68L455.38,231.23" stroke="#1e1e1e" stroke-width="0.95" fill="none"/>
<circle cx="456.72" cy="230.45" r="0.75" fill="#1e1e1e"/>
<path d="M460.02,228.90L460.02,232.00M458.68,229.68L461.36,231.23M461.36,229.68L458.68,231.23" stroke="#1e1e1e" stroke-width="0.95" fill="none"/>
<circle cx="460.02" cy="230.45" r="0.75" fill="#1e1e1e"/>
<polyline points="381.30,248.50 381.30,246.50 431.58,246.50 431.58,248.50" fill="none" stroke="#3a3a3a" stroke-width="1.25"/>
<text x="406.44" y="244.10" font-size="7.4" text-anchor="middle" fill="#1e1e1e" font-weight="normal" stroke="#1e1e1e" stroke-width="0.28" >ns</text>
<polyline points="481.86,338.70 481.86,336.70 532.14,336.70 532.14,338.70" fill="none" stroke="#3a3a3a" stroke-width="1.25"/>
<text x="507.00" y="334.30" font-size="7.4" text-anchor="middle" fill="#1e1e1e" font-weight="normal" stroke="#1e1e1e" stroke-width="0.28" >ns</text>
<polyline points="341.60,161.40 342.61,160.98 343.62,160.56 344.64,160.75 345.65,159.97 346.66,160.12 347.68,159.70 348.69,159.16 349.70,159.30 350.61,159.15 351.51,158.57 352.42,158.77 353.32,158.29 354.23,158.15 355.14,158.29 356.04,158.50 356.95,157.71 357.86,157.64 358.76,157.85 359.67,157.98 360.57,157.49 361.48,157.18 362.39,157.54 363.29,156.55 364.20,156.80 365.11,156.90 366.02,156.17 366.94,155.82 367.85,155.58 368.76,155.53 369.68,155.77 370.59,154.98 371.50,155.12 372.41,154.96 373.32,154.50 374.24,154.44 375.15,153.78 376.06,153.56 376.98,153.47 377.89,153.68 378.80,153.30 379.71,153.08 380.61,152.83 381.52,152.93 382.43,152.66 383.33,152.37 384.24,152.66 385.14,152.43 386.05,151.87 386.96,152.02 387.86,151.82 388.77,151.99 389.68,151.71 390.58,151.16 391.49,151.63 392.39,150.71 393.30,150.90 394.23,150.73 395.16,150.93 396.09,150.29 397.02,150.49 397.95,149.99 398.88,150.45 399.82,150.44 400.75,150.17 401.68,150.34 402.61,149.73 403.54,149.98 404.47,149.78 405.40,149.60 406.36,149.83 407.32,149.88 408.28,150.39 409.24,150.64 410.20,150.38 411.16,150.71 412.12,150.32 413.08,151.06 414.04,151.17 415.00,151.20 415.94,151.72 416.88,151.65 417.82,151.25 418.76,151.42 419.70,151.75 420.64,151.25 421.58,151.73 422.52,151.54 423.46,151.58 424.40,152.00 425.35,151.75 426.30,152.54 427.25,152.12 428.20,152.37 429.15,152.65 430.10,153.23 431.05,152.67 432.00,153.15 432.95,153.39 433.90,153.50 434.84,154.00 435.78,154.09 436.72,154.28 437.66,153.90 438.60,154.17 439.54,154.27 440.48,154.90 441.42,155.11 442.36,154.54 443.30,155.00 444.24,154.97 445.18,155.28 446.12,155.54 447.06,156.03 448.00,156.38 448.94,156.35 449.88,156.37 450.82,157.01 451.76,157.22 452.70,157.60 453.65,157.91 454.60,158.51 455.55,158.52 456.50,158.61 457.45,158.96 458.40,159.26 459.35,158.95 460.30,159.96 461.25,160.10 462.20,160.10 463.14,160.53 464.08,160.55 465.02,160.27 465.96,160.37 466.90,160.19 467.84,160.76 468.78,160.34 469.72,160.43 470.66,160.65 471.60,161.00 472.55,160.70 473.50,160.86 474.45,160.60 475.40,160.55 476.35,160.69 477.30,161.00 478.23,159.94 479.15,159.48 480.07,158.47 481.00,158.20 481.95,158.48 482.90,158.18 483.85,157.70 484.80,157.74 485.75,157.76 486.70,157.72 487.65,157.44 488.60,158.03 489.55,158.10 490.50,157.60 491.44,157.44 492.38,157.33 493.32,156.84 494.26,156.72 495.20,156.81 496.14,156.61 497.08,156.99 498.02,156.26 498.96,156.00 499.90,156.30 500.85,156.31 501.80,155.53 502.75,154.78 503.70,154.74 504.65,153.87 505.60,153.90 506.54,154.03 507.48,154.53 508.42,154.53 509.36,154.48 510.30,154.40" fill="none" stroke="#ffa803" stroke-width="1.0" stroke-linejoin="round" stroke-linecap="round" opacity="1.0"/>
<polyline points="341.60,158.50 342.61,158.29 343.62,158.38 344.64,158.20 345.65,158.74 346.66,158.53 347.68,158.75 348.69,158.35 349.70,158.50 350.61,158.20 351.51,158.68 352.42,158.79 353.32,158.62 354.23,158.53 355.14,158.49 356.04,158.37 356.95,157.85 357.86,158.07 358.76,157.87 359.67,157.53 360.57,157.48 361.48,157.65 362.39,157.58 363.29,157.92 364.20,157.70 365.15,157.99 366.11,157.41 367.06,157.72 368.01,157.65 368.96,157.49 369.92,156.84 370.87,156.58 371.82,156.47 372.78,156.32 373.73,156.20 374.68,156.45 375.64,156.58 376.59,156.40 377.54,155.95 378.49,155.98 379.45,155.99 380.40,155.60 381.32,155.08 382.24,155.46 383.16,155.54 384.09,155.28 385.01,155.11 385.93,154.72 386.85,154.31 387.77,154.72 388.69,154.16 389.61,154.44 390.54,154.45 391.46,153.79 392.38,153.65 393.30,153.60 394.21,153.98 395.12,153.76 396.04,153.25 396.95,153.19 397.86,153.19 398.77,153.85 399.69,153.74 400.60,153.13 401.51,153.73 402.43,153.84 403.34,153.54 404.25,153.24 405.16,153.40 406.07,153.01 406.99,152.88 407.90,153.30 408.91,154.02 409.93,154.03 410.94,154.22 411.96,154.89 412.97,154.74 413.99,155.43 415.00,155.40 415.94,155.73 416.88,155.22 417.82,155.30 418.76,155.37 419.70,155.37 420.64,155.72 421.58,155.46 422.52,155.65 423.46,155.43 424.40,155.80 425.35,156.22 426.30,155.77 427.25,155.91 428.20,156.08 429.15,156.41 430.10,156.03 431.05,156.53 432.00,156.20 432.95,156.28 433.90,156.30 434.84,156.32 435.78,155.87 436.72,156.25 437.66,156.01 438.60,155.85 439.54,156.57 440.48,156.01 441.42,156.28 442.36,156.50 443.30,156.30 444.24,156.45 445.18,156.34 446.12,156.62 447.06,156.75 448.00,157.06 448.94,156.55 449.88,157.05 450.82,156.87 451.76,157.00 452.70,157.30 453.65,157.51 454.60,157.23 455.55,157.24 456.50,157.37 457.45,157.47 458.40,157.01 459.35,157.12 460.30,156.98 461.25,156.95 462.20,156.90 463.14,157.14 464.08,157.00 465.02,157.14 465.96,157.16 466.90,157.65 467.84,157.50 468.78,157.73 469.72,157.86 470.66,157.31 471.60,157.60 472.54,157.71 473.48,158.12 474.42,158.09 475.36,157.51 476.30,157.56 477.24,157.91 478.18,157.64 479.12,157.85 480.06,157.76 481.00,158.20 481.95,158.35 482.90,158.46 483.85,158.56 484.80,157.89 485.75,158.39 486.70,158.34 487.65,157.88 488.60,158.54 489.55,158.62 490.50,158.20 491.44,158.01 492.38,158.73 493.32,158.29 494.26,158.43 495.20,158.94 496.14,158.86 497.08,158.32 498.02,158.62 498.96,158.75 499.90,158.80 500.85,158.69 501.79,158.60 502.74,158.75 503.68,159.15 504.63,158.55 505.57,159.07 506.52,159.00 507.46,158.66 508.41,158.98 509.35,159.28 510.30,159.20" fill="none" stroke="#ff00ff" stroke-width="1.0" stroke-linejoin="round" stroke-linecap="round" opacity="1.0"/>
<polyline points="341.60,159.00 342.70,158.96 343.80,158.51 344.90,159.29 346.00,158.80 347.00,158.48 348.00,158.07 349.00,156.72 350.00,156.50 351.00,155.61 352.00,154.74 353.00,154.73 354.00,153.80 355.00,152.96 356.00,152.20 357.00,151.83 358.00,151.64 359.00,150.92 360.00,150.00 361.00,149.28 362.00,148.68 363.00,148.88 364.00,148.06 365.00,147.68 366.00,146.63 367.00,146.50 368.00,145.69 369.00,145.84 370.00,145.18 371.00,144.45 372.00,144.81 373.00,144.00 374.00,143.78 375.00,143.59 376.00,142.60 377.00,142.95 378.00,141.90 379.00,142.27 380.00,141.60 380.92,141.33 381.84,141.00 382.75,140.97 383.67,141.07 384.59,140.25 385.51,139.90 386.43,140.03 387.35,139.55 388.26,139.20 389.18,139.02 390.10,139.10 391.11,138.70 392.12,138.83 393.14,138.93 394.15,138.92 395.16,139.33 396.18,138.91 397.19,139.10 398.20,139.10 399.17,138.76 400.14,138.86 401.11,138.52 402.08,138.68 403.05,138.41 404.02,139.01 404.99,138.80 405.96,138.42 406.93,138.63 407.90,138.60 408.91,139.02 409.93,138.30 410.94,138.97 411.96,138.65 412.97,138.74 413.99,139.07 415.00,138.80 415.94,138.85 416.88,139.11 417.82,139.42 418.76,139.83 419.70,139.41 420.64,140.00 421.58,140.04 422.52,140.12 423.46,140.06 424.40,140.30 425.35,140.38 426.30,140.34 427.25,140.63 428.20,140.79 429.15,141.62 430.10,141.40 431.05,141.54 432.00,141.69 432.95,142.59 433.90,142.50 434.84,143.08 435.78,143.15 436.72,143.05 437.66,143.27 438.60,143.56 439.54,143.96 440.48,143.94 441.42,144.45 442.36,144.54 443.30,145.00 444.24,145.70 445.18,145.99 446.12,145.88 447.06,145.89 448.00,146.82 448.94,146.51 449.88,146.83 450.82,146.79 451.76,147.41 452.70,147.80 453.65,148.01 454.60,148.26 455.55,148.22 456.50,148.72 457.45,148.50 458.40,148.97 459.35,149.04 460.30,149.55 461.25,149.46 462.20,150.10 463.14,149.91 464.08,150.40 465.02,150.58 465.96,151.14 466.90,151.33 467.84,151.77 468.78,151.92 469.72,152.21 470.66,152.60 471.60,152.50 472.54,152.69 473.48,152.92 474.42,153.81 475.36,153.34 476.30,154.15 477.24,154.37 478.18,154.12 479.12,155.12 480.06,155.46 481.00,155.40 481.95,155.73 482.90,156.05 483.85,156.34 484.80,155.96 485.75,156.52 486.70,156.72 487.65,157.24 488.60,157.43 489.55,157.67 490.50,157.60 491.44,157.74 492.38,158.07 493.32,157.94 494.26,158.01 495.20,157.66 496.14,157.54 497.08,157.69 498.02,157.95 498.96,157.78 499.90,158.20 500.85,158.50 501.79,158.25 502.74,158.31 503.68,158.31 504.63,158.36 505.57,158.19 506.52,157.75 507.46,158.47 508.41,158.42 509.35,158.20 510.30,158.20" fill="none" stroke="#ff0000" stroke-width="1.0" stroke-linejoin="round" stroke-linecap="round" opacity="1.0"/>
<polyline points="341.60,149.60 342.80,149.22 344.00,148.80 345.25,151.13 346.50,153.30 347.70,150.83 348.90,148.80 349.97,144.59 351.03,140.01 352.10,135.80 353.12,131.96 354.15,128.43 355.18,125.04 356.20,121.30 357.27,117.39 358.33,113.89 359.40,110.00 361.00,100.20 362.20,95.59 363.40,90.50 364.60,86.90 365.80,83.30 366.82,81.42 367.85,79.64 368.88,77.92 369.90,76.00 370.97,73.31 372.05,70.41 373.12,67.60 374.20,64.70 375.23,62.06 376.25,59.67 377.27,57.30 378.30,55.00 379.40,51.07 380.50,46.90 381.50,43.58 382.50,40.48 383.50,36.98 384.50,34.00 385.50,31.36 386.50,29.03 387.50,26.81 388.50,24.30 389.60,22.23 390.70,20.05 391.80,17.80 392.75,16.50 393.70,15.40 394.75,15.66 395.80,15.90 396.73,15.23 397.65,14.58 398.57,13.76 399.50,13.30 400.60,14.56 401.70,15.28 402.80,16.50 404.15,15.79 405.50,14.60 406.75,15.62 408.00,16.20 409.00,16.96 410.00,18.18 411.00,19.36 412.00,20.20 413.20,20.43 414.40,20.20 415.33,20.72 416.26,21.17 417.19,21.68 418.11,22.59 419.04,22.77 419.97,23.50 420.90,24.00 421.83,25.02 422.76,26.41 423.69,27.83 424.61,28.62 425.54,30.16 426.47,31.20 427.40,32.40 428.43,33.86 429.47,35.04 430.50,36.07 431.53,37.67 432.57,38.73 433.60,40.00 434.55,40.98 435.50,42.19 436.45,43.65 437.40,44.84 438.35,45.98 439.30,47.30 440.26,48.74 441.22,50.46 442.18,52.07 443.14,53.95 444.10,55.40 445.20,57.58 446.30,60.39 447.40,62.70 448.47,64.47 449.53,65.71 450.60,67.50 451.80,68.36 453.00,68.80 454.10,71.17 455.20,73.53 456.30,75.60 457.37,77.76 458.43,80.07 459.50,82.40 460.57,83.58 461.63,85.12 462.70,86.10 463.68,87.76 464.66,89.27 465.64,90.92 466.62,92.47 467.60,94.20 468.70,95.30 469.80,96.65 470.90,98.34 472.00,99.50 473.20,100.89 474.40,102.50 475.35,104.62 476.30,106.17 477.25,108.08 478.20,110.10 479.14,110.87 480.08,111.46 481.02,112.32 481.96,113.37 482.90,113.90 483.85,115.49 484.80,116.86 485.75,118.17 486.70,119.50 487.63,120.04 488.57,120.39 489.50,120.50 490.44,122.78 491.38,125.13 492.32,127.05 493.26,129.66 494.20,131.80 495.15,132.41 496.10,133.19 497.05,133.77 498.00,134.23 498.95,134.74 499.90,135.60 500.85,136.04 501.80,135.86 502.75,136.26 503.70,136.50 504.65,137.85 505.60,139.25 506.55,140.89 507.50,142.20 508.43,143.67 509.37,144.55 510.30,145.90" fill="none" stroke="#0000ff" stroke-width="1.0" stroke-linejoin="round" stroke-linecap="round" opacity="1.0"/>
<line x1="343.10" y1="17.90" x2="343.10" y2="59.40" stroke="#000" stroke-width="2.9" />
<polyline points="343.1,59.4 343.1,19.2 365.8,19.2" fill="none" stroke="#000" stroke-width="2.7"/>
<text x="342.00" y="14.60" font-size="12.6" text-anchor="start" fill="#000" font-weight="normal" textLength="40.6" lengthAdjust="spacingAndGlyphs" >200ms</text>
<text x="337.1" y="58.8" font-size="12.4" fill="#000" transform="rotate(-90 337.1 58.8)" textLength="52.2" lengthAdjust="spacingAndGlyphs">0.10&#916;<tspan font-style="italic">F</tspan>/<tspan font-style="italic">F</tspan></text>
<polyline points="525.70,43.16 526.10,41.66 526.50,38.68 526.90,36.07 527.30,34.31 527.67,35.53 528.05,37.87 528.42,41.59 528.80,44.53 529.17,48.32 529.55,53.00 529.92,56.51 530.30,60.65 530.67,63.79 531.05,66.92 531.42,68.87 531.80,71.02 532.16,68.83 532.51,65.00 532.87,60.77 533.22,55.67 533.58,49.89 533.93,45.48 534.29,40.90 534.64,37.12 535.00,34.48 535.36,36.52 535.72,37.93 536.08,40.34 536.45,43.04 536.81,45.71 537.17,48.90 537.53,51.48 537.89,54.85 538.25,57.36 538.62,60.35 538.98,62.49 539.34,63.55 539.70,64.87 540.08,62.71 540.46,60.10 540.83,55.48 541.21,50.96 541.59,45.78 541.97,41.27 542.34,37.02 542.72,33.70 543.10,31.68 543.47,33.32 543.84,35.84 544.21,38.42 544.58,41.89 544.95,45.42 545.32,49.35 545.68,52.95 546.05,56.30 546.42,60.52 546.79,63.86 547.16,66.59 547.53,68.52 547.90,70.29 548.25,67.86 548.61,65.63 548.96,61.90 549.32,57.58 549.67,52.97 550.03,49.15 550.38,44.87 550.74,40.00 551.09,37.14 551.45,34.00 551.80,31.79 552.17,33.70 552.55,36.59 552.92,39.77 553.30,42.61 553.67,47.07 554.05,50.69 554.42,55.43 554.80,59.02 555.17,63.11 555.55,66.28 555.92,68.32 556.30,70.55 556.67,67.37 557.03,63.39 557.40,59.12 557.77,53.23 558.13,47.78 558.50,42.59 558.87,38.03 559.23,33.85 559.60,31.19 559.96,33.66 560.33,35.61 560.69,39.26 561.05,42.76 561.42,46.16 561.78,50.20 562.15,54.12 562.51,57.78 562.87,60.81 563.24,63.22 563.60,65.01 563.96,63.06 564.31,59.38 564.67,55.18 565.02,50.74 565.38,45.42 565.73,40.78 566.09,37.25 566.44,33.56 566.80,31.34 567.15,32.12 567.50,34.18 567.85,36.42 568.20,38.37 568.55,41.62 568.90,44.55 569.25,47.05 569.60,50.58 569.95,53.35 570.30,56.26 570.65,58.41 571.00,60.83 571.35,62.55 571.70,63.17 572.06,60.97 572.41,58.24 572.77,54.36 573.12,49.02 573.48,44.32 573.83,39.74 574.19,35.36 574.54,32.11 574.90,29.83 575.28,31.30 575.65,33.44 576.03,35.58 576.41,38.46 576.78,41.92 577.16,44.54 577.54,48.39 577.92,51.84 578.29,54.56 578.67,57.29 579.05,60.22 579.42,61.65 579.80,63.02 580.16,61.00 580.51,57.96 580.87,53.28 581.22,48.78 581.58,43.91 581.93,39.66 582.29,35.17 582.64,32.26 583.00,29.40 583.36,31.25 583.72,33.98 584.08,37.27 584.44,40.42 584.80,44.00 585.16,47.69 585.52,51.60 585.88,54.37 586.24,57.37 586.60,59.10 586.97,56.67 587.34,54.11 587.71,51.25 588.08,47.27 588.45,43.33 588.82,38.82 589.19,34.79 589.56,31.60 589.93,29.41 590.30,27.09 590.67,28.85 591.05,31.25 591.42,34.18 591.80,37.57 592.17,41.77 592.55,44.99 592.92,48.77 593.30,53.35 593.67,56.69 594.05,59.71 594.42,61.55 594.80,63.71 595.16,61.86 595.52,58.60 595.88,55.77 596.24,52.06 596.60,47.85 596.96,43.66 597.32,39.66 597.68,36.40 598.04,33.68 598.40,31.71 598.76,33.74 599.12,35.71 599.48,39.01 599.84,41.57 600.20,45.81 600.56,49.09 600.92,52.55 601.28,55.35 601.64,57.60 602.00,58.87 602.36,56.48 602.71,54.37 603.07,50.37 603.42,46.53 603.78,42.74 604.13,38.66 604.49,35.07 604.84,32.78 605.20,30.60 605.56,31.68 605.92,33.32 606.28,35.95 606.64,38.03 606.99,41.02 607.35,43.59 607.71,46.59 608.07,50.14 608.43,53.68 608.79,56.34 609.15,60.03 609.51,63.11 609.86,65.73 610.22,68.17 610.58,69.52 610.94,71.79 611.30,73.33 611.66,70.42 612.02,67.49 612.38,63.55 612.74,59.26 613.10,54.33 613.46,49.54 613.82,45.29 614.18,40.65 614.54,37.57 614.90,35.46 615.27,36.88 615.65,38.79 616.02,42.06 616.40,44.80 616.77,47.25 617.15,50.90 617.52,54.02 617.90,57.15 618.27,60.04 618.65,62.75 619.02,64.66 619.40,65.87 619.76,63.60 620.11,60.62 620.47,56.52 620.82,52.46 621.18,47.98 621.53,43.23 621.89,39.05 622.24,36.03 622.60,34.09 622.97,35.81 623.34,38.15 623.71,40.52 624.08,44.05 624.45,47.26 624.82,50.45 625.19,53.55 625.56,56.41 625.93,58.77 626.30,60.03 626.67,58.36 627.03,55.33 627.40,51.59 627.77,47.83 628.13,43.78 628.50,39.19 628.87,35.97 629.23,33.15 629.60,31.64 629.96,32.94 630.32,34.17 630.67,36.81 631.03,39.24 631.39,41.53 631.75,44.62 632.11,47.21 632.47,50.61 632.83,52.99 633.18,55.36 633.54,57.01 633.90,58.15 634.27,56.33 634.63,53.41 635.00,49.51 635.37,45.99 635.73,41.35 636.10,37.52 636.47,34.60 636.83,31.17 637.20,29.33 637.56,30.54 637.91,32.79 638.27,34.02 638.62,36.04 638.98,39.20 639.33,41.20 639.69,44.67 640.04,47.46 640.40,50.60 640.76,53.70 641.11,56.31 641.47,59.32 641.82,61.29 642.18,64.37 642.53,66.30 642.89,68.35 643.24,69.34 643.60,71.12 643.97,69.15 644.34,65.27 644.71,61.63 645.08,57.38 645.45,52.85 645.82,47.55 646.19,43.03 646.56,39.21 646.93,36.45 647.30,34.43 647.66,35.14 648.01,36.47 648.37,38.16 648.72,40.05 649.08,42.27 649.44,44.32 649.79,47.17 650.15,50.13 650.51,52.16 650.86,54.93 651.22,56.75 651.58,59.39 651.93,61.38 652.29,62.96 652.64,64.18 653.00,65.19 653.35,63.33 653.70,60.68 654.05,56.39 654.40,52.18 654.75,48.32 655.10,44.03 655.45,39.51 655.80,35.82 656.15,33.20 656.50,30.72 656.86,32.01 657.23,33.53 657.59,35.79 657.96,37.78 658.32,40.21 658.69,43.34 659.05,46.46 659.42,48.86 659.78,52.24 660.15,54.97 660.51,58.25 660.88,60.73 661.24,62.94 661.61,65.13 661.97,66.87 662.34,68.86 662.70,69.99 663.06,67.49 663.41,64.26 663.77,59.93 664.12,55.48 664.48,49.85 664.83,45.75 665.19,41.00 665.54,37.71 665.90,35.27 666.27,36.76 666.63,38.36 667.00,40.14 667.37,42.41 667.73,45.20 668.10,48.02 668.47,50.31 668.83,53.18 669.20,55.73 669.57,57.30 669.93,58.69 670.30,59.86 670.66,58.36 671.01,55.48 671.37,52.15 671.72,47.99 672.08,43.20 672.43,39.09 672.79,35.56 673.14,32.66 673.50,31.18 673.88,32.74 674.25,34.74 674.62,36.61 675.00,40.01 675.38,42.65 675.75,46.03 676.12,49.59 676.50,52.14 676.88,55.00 677.25,58.12 677.62,59.60 678.00,61.07 678.40,58.51 678.80,54.35 679.20,48.47 679.60,43.13 680.00,37.95 680.40,33.75 680.80,30.74 681.16,32.19 681.52,34.05 681.88,35.43 682.25,37.78 682.61,39.84 682.97,42.58 683.33,45.57 683.69,47.67 684.05,50.81 684.42,53.04 684.78,54.20 685.14,56.48 685.50,57.20" fill="none" stroke="#ff0000" stroke-width="0.85" stroke-linejoin="round" stroke-linecap="round" opacity="1.0"/>
<polyline points="524.80,89.99 525.18,92.50 525.56,95.59 525.94,99.08 526.32,103.91 526.70,108.69 527.08,113.62 527.46,117.62 527.84,121.97 528.22,125.26 528.60,127.16 529.00,123.75 529.40,118.32 529.80,112.40 530.20,105.57 530.60,99.63 531.00,94.55 531.40,91.16 531.77,92.63 532.13,95.56 532.50,98.69 532.87,101.94 533.23,106.60 533.60,110.59 533.97,114.32 534.33,119.06 534.70,122.01 535.07,125.32 535.43,128.18 535.80,129.89 536.16,127.31 536.51,123.66 536.87,118.78 537.22,113.31 537.58,107.63 537.93,102.19 538.29,98.07 538.64,94.37 539.00,91.64 539.36,93.64 539.72,95.79 540.08,98.81 540.45,102.53 540.81,106.97 541.17,110.47 541.53,115.22 541.89,119.23 542.25,123.71 542.62,126.95 542.98,130.03 543.34,132.59 543.70,134.54 544.06,132.04 544.41,127.70 544.77,123.14 545.12,116.80 545.48,111.04 545.83,105.21 546.19,100.22 546.54,96.85 546.90,94.10 547.28,95.23 547.65,97.43 548.03,100.36 548.41,103.84 548.78,107.44 549.16,111.12 549.54,114.79 549.92,118.13 550.29,121.88 550.67,124.88 551.05,127.92 551.42,130.15 551.80,131.43 552.19,127.76 552.57,122.53 552.96,114.77 553.34,107.88 553.73,100.88 554.11,95.22 554.50,90.99 554.86,92.63 555.21,94.59 555.57,97.01 555.92,100.08 556.28,102.91 556.64,105.92 556.99,109.95 557.35,113.24 557.71,116.96 558.06,120.61 558.42,123.31 558.78,127.09 559.13,129.75 559.49,131.97 559.84,133.94 560.20,135.36 560.58,132.29 560.96,128.44 561.33,122.76 561.71,117.24 562.09,111.19 562.47,105.07 562.84,99.94 563.22,96.14 563.60,93.25 563.96,93.91 564.33,96.23 564.69,98.18 565.06,100.12 565.42,103.14 565.79,106.01 566.15,109.04 566.52,112.73 566.88,116.39 567.25,119.12 567.61,122.78 567.98,125.61 568.34,127.85 568.71,130.95 569.07,132.82 569.44,134.85 569.80,135.99 570.16,132.97 570.51,128.15 570.87,122.94 571.22,116.66 571.58,109.95 571.93,103.18 572.29,97.84 572.64,93.13 573.00,89.75 573.40,92.97 573.80,98.05 574.20,104.43 574.60,111.10 575.00,117.66 575.40,122.89 575.80,126.03 576.18,123.79 576.56,120.86 576.93,116.60 577.31,112.25 577.69,107.85 578.07,103.04 578.44,98.89 578.82,96.40 579.20,94.10 579.57,95.39 579.94,97.59 580.31,100.47 580.68,103.71 581.05,106.90 581.42,110.45 581.78,114.45 582.15,118.70 582.52,121.66 582.89,125.12 583.26,127.62 583.63,129.83 584.00,131.40 584.36,128.70 584.73,124.10 585.09,118.48 585.45,112.45 585.81,106.40 586.17,101.19 586.54,96.42 586.90,93.47 587.25,95.38 587.61,97.37 587.96,100.13 588.31,102.44 588.67,106.00 589.02,109.50 589.37,112.82 589.73,117.37 590.08,120.36 590.43,123.74 590.79,127.33 591.14,129.96 591.49,132.86 591.85,134.63 592.20,135.96 592.56,133.20 592.91,129.85 593.27,124.45 593.62,119.26 593.98,113.07 594.33,107.83 594.69,102.28 595.04,98.27 595.40,95.59 595.76,97.65 596.12,99.61 596.48,102.01 596.85,104.88 597.21,108.83 597.57,112.72 597.93,116.08 598.29,119.19 598.65,122.64 599.02,125.78 599.38,128.51 599.74,130.52 600.10,132.10 600.46,130.09 600.81,126.57 601.17,121.22 601.52,116.56 601.88,110.54 602.23,105.48 602.59,100.87 602.94,97.15 603.30,93.78 603.66,95.69 604.02,98.27 604.38,101.46 604.73,104.04 605.09,107.91 605.45,112.26 605.81,115.46 606.17,119.39 606.52,122.70 606.88,125.89 607.24,128.42 607.60,129.70 607.60,130.96 608.20,133.10 608.80,133.41 609.40,134.06 610.00,133.49 610.60,135.01 611.20,133.54 611.80,134.04 612.40,133.77 613.00,135.86 613.60,135.24 614.20,134.89 614.80,134.90 618.60,94.10 618.95,95.32 619.31,97.12 619.66,98.91 620.01,101.42 620.36,103.83 620.72,107.29 621.07,109.80 621.42,113.43 621.78,116.97 622.13,120.13 622.48,122.74 622.84,125.82 623.19,129.08 623.54,131.31 623.89,133.61 624.25,135.31 624.60,136.25 624.98,133.77 625.36,129.38 625.73,123.67 626.11,117.64 626.49,111.06 626.87,105.29 627.24,100.44 627.62,95.43 628.00,92.96 628.38,94.27 628.75,96.64 629.12,100.14 629.50,103.25 629.88,106.89 630.25,110.99 630.62,115.43 631.00,119.20 631.38,122.16 631.75,125.34 632.12,128.40 632.50,129.45 632.89,126.70 633.27,121.98 633.66,116.55 634.05,109.99 634.44,103.76 634.83,97.78 635.21,92.88 635.60,89.81 635.97,91.59 636.35,94.90 636.72,97.56 637.09,101.32 637.46,106.33 637.84,109.92 638.21,114.71 638.58,117.81 638.95,121.46 639.33,123.88 639.70,126.30 640.10,123.13 640.50,118.58 640.90,113.02 641.30,107.05 641.70,100.91 642.10,96.57 642.50,93.45 642.87,95.31 643.23,99.14 643.60,102.93 643.97,107.67 644.33,111.85 644.70,116.69 645.07,120.63 645.43,124.04 645.80,125.62 646.17,123.38 646.55,119.79 646.92,114.75 647.30,110.00 647.67,104.98 648.05,100.03 648.42,96.51 648.80,94.00 649.17,95.60 649.55,98.50 649.92,102.55 650.29,105.98 650.66,110.44 651.04,114.62 651.41,119.12 651.78,123.09 652.15,127.26 652.53,129.84 652.90,131.94 653.28,129.63 653.66,125.75 654.03,121.58 654.41,116.17 654.79,110.79 655.17,106.21 655.54,101.71 655.92,98.22 656.30,95.39 656.68,97.54 657.06,99.93 657.44,103.89 657.82,107.77 658.20,111.41 658.58,116.20 658.96,119.47 659.34,122.82 659.72,126.11 660.10,127.61 660.50,124.74 660.90,120.13 661.30,113.72 661.70,108.08 662.10,101.80 662.50,97.21 662.90,94.06 663.25,96.17 663.60,98.61 663.95,101.23 664.30,104.60 664.65,108.65 665.00,112.82 665.35,116.58 665.70,120.54 666.05,124.62 666.40,127.60 666.75,130.28 667.10,132.03 667.46,129.61 667.81,125.75 668.17,121.26 668.52,116.52 668.88,111.58 669.23,106.76 669.59,102.47 669.94,98.90 670.30,97.02 670.67,98.77 671.05,102.32 671.42,106.97 671.80,111.63 672.17,115.90 672.55,120.11 672.92,124.01 673.30,125.56 673.65,123.31 674.00,120.12 674.35,115.67 674.70,110.40 675.05,105.35 675.40,101.04 675.75,98.00 676.10,95.37 676.30,96.93 676.50,97.60" fill="none" stroke="#0000ff" stroke-width="0.85" stroke-linejoin="round" stroke-linecap="round" opacity="1.0"/>
<polyline points="521.1,40.4 521.1,13.9 531.2,13.9" fill="none" stroke="#000" stroke-width="1.7"/>
<text x="520.00" y="11.60" font-size="7.2" text-anchor="start" fill="#000" font-weight="normal" stroke="#000" stroke-width="0.15" textLength="8.2" lengthAdjust="spacingAndGlyphs" >2s</text>
<text x="517.7" y="36.5" font-size="7.6" fill="#000" stroke="#000" stroke-width="0.15" transform="rotate(-90 517.7 36.5)" textLength="30.6" lengthAdjust="spacingAndGlyphs">0.05&#916;<tspan font-style="italic">F</tspan>/<tspan font-style="italic">F</tspan></text>
<polyline points="521.0,91.8 521.0,86.7 530.0,86.7" fill="none" stroke="#000" stroke-width="1.7"/>
<text x="520.00" y="83.90" font-size="7.2" text-anchor="start" fill="#000" font-weight="normal" stroke="#000" stroke-width="0.15" textLength="8.2" lengthAdjust="spacingAndGlyphs" >2s</text>
<text x="518.7" y="112.7" font-size="7.6" fill="#000" stroke="#000" stroke-width="0.15" transform="rotate(-90 518.7 112.7)" textLength="31.6" lengthAdjust="spacingAndGlyphs">0.05&#916;<tspan font-style="italic">F</tspan>/<tspan font-style="italic">F</tspan></text>
</svg>
</body></html>
